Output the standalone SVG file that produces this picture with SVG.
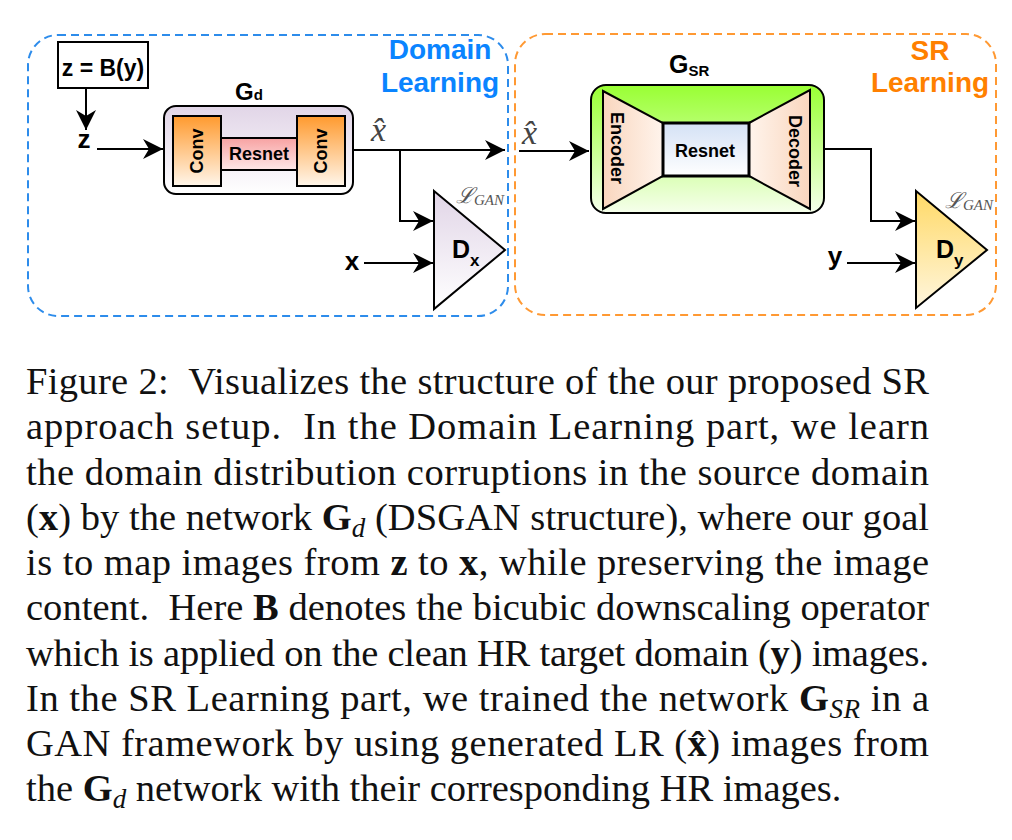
<svg xmlns="http://www.w3.org/2000/svg" width="1012" height="840" viewBox="0 0 1012 840">
<defs>
<style>
.lbl{font-family:"Liberation Sans",Arial,sans-serif;font-weight:bold;fill:#000}
.cap{font-family:"Liberation Serif","Times New Roman",serif;font-size:38.5px;fill:#111}
.math{font-family:"Liberation Serif","DejaVu Serif",serif;font-style:italic;fill:#444}
.edge{fill:none;stroke:#000;stroke-width:2;marker-end:url(#arr)}
.box{stroke:#000;stroke-width:2}
</style>
<marker id="arr" markerUnits="userSpaceOnUse" markerWidth="20" markerHeight="20" viewBox="0 0 20 20" refX="20" refY="10" orient="auto">
<path d="M20,10 L0,0 L6,10 L0,20 Z" fill="#000"/>
</marker>
<linearGradient id="gLav" x1="0" y1="0" x2="0" y2="1"><stop offset="0" stop-color="#E1D5E7"/><stop offset="1" stop-color="#FFFFFF"/></linearGradient>
<linearGradient id="gOrange" x1="0" y1="0" x2="0" y2="1"><stop offset="0" stop-color="#FF9A2E"/><stop offset="1" stop-color="#FFF6EB"/></linearGradient>
<linearGradient id="gPink" x1="0" y1="0" x2="0" y2="1"><stop offset="0" stop-color="#F7A2A2"/><stop offset="1" stop-color="#FFE8E8"/></linearGradient>
<linearGradient id="gGreen" x1="0" y1="0" x2="0" y2="1"><stop offset="0" stop-color="#99FF33"/><stop offset="1" stop-color="#F6FFEC"/></linearGradient>
<linearGradient id="gBlue" x1="0" y1="0" x2="0" y2="1"><stop offset="0" stop-color="#D4E1F5"/><stop offset="1" stop-color="#FFFFFF"/></linearGradient>
<linearGradient id="gPeachL" x1="0" y1="0" x2="1" y2="0"><stop offset="0" stop-color="#F9D6BE"/><stop offset="1" stop-color="#FFF4EC"/></linearGradient>
<linearGradient id="gPeachR" x1="1" y1="0" x2="0" y2="0"><stop offset="0" stop-color="#F9D6BE"/><stop offset="1" stop-color="#FFF4EC"/></linearGradient>
<linearGradient id="gGold" x1="0" y1="0" x2="0" y2="1"><stop offset="0" stop-color="#FFD966"/><stop offset="1" stop-color="#FFF6DE"/></linearGradient>
</defs>
<rect width="1012" height="840" fill="#FFFFFF"/>

<g id="domain-learning">
<rect x="28" y="35" width="480" height="281" rx="30" fill="none" stroke="#2D8CEB" stroke-width="2" stroke-dasharray="8 5"/>
<text class="lbl" x="440" y="59" font-size="28" text-anchor="middle" style="fill:#0A84FF">Domain</text>
<text class="lbl" x="440" y="92" font-size="28" text-anchor="middle" style="fill:#0A84FF">Learning</text>
</g>

<g id="sr-learning">
<rect x="515" y="34" width="481" height="281" rx="30" fill="none" stroke="#FF9933" stroke-width="2" stroke-dasharray="8 5"/>
<text class="lbl" x="930" y="60" font-size="28" text-anchor="middle" style="fill:#FF8000">SR</text>
<text class="lbl" x="930" y="92" font-size="28" text-anchor="middle" style="fill:#FF8000">Learning</text>
</g>

<g id="zby">
<rect x="58" y="42" width="90" height="46" fill="#FFFFFF" class="box"/>
<text class="lbl" x="103" y="76" font-size="23" text-anchor="middle">z = B(y)</text>
</g>

<g id="z-label"><text class="lbl" x="84" y="148" font-size="26" text-anchor="middle">z</text></g>

<g id="Gd">
<text class="lbl" x="235" y="100" font-size="24">G<tspan font-size="15">d</tspan></text>
<rect x="164" y="106" width="189" height="88" rx="12" fill="url(#gLav)" class="box"/>
<rect x="173" y="116" width="48" height="70" fill="url(#gOrange)" class="box"/>
<rect x="221" y="138" width="76" height="32" fill="url(#gPink)" class="box"/>
<rect x="297" y="116" width="48" height="70" fill="url(#gOrange)" class="box"/>
<text class="lbl" font-size="18" text-anchor="middle" dominant-baseline="central" transform="translate(197,151) rotate(-90)">Conv</text>
<text class="lbl" x="259" y="160" font-size="18" text-anchor="middle">Resnet</text>
<text class="lbl" font-size="18" text-anchor="middle" dominant-baseline="central" transform="translate(321,151) rotate(-90)">Conv</text>
</g>

<g id="xhat1"><text class="math" x="371" y="141" font-size="34">x&#770;</text></g>

<g id="Dx">
<polygon points="434,191 505,250 434,309" fill="url(#gLav)" class="box" stroke-linejoin="miter"/>
<text class="lbl" x="452" y="258" font-size="25">D<tspan font-size="17" dy="8">x</tspan></text>
<text class="math" x="456" y="203" font-size="22" style="fill:#555">ℒ<tspan font-size="15" dy="2">GAN</tspan></text>
</g>

<g id="x-label"><text class="lbl" x="352" y="270" font-size="26" text-anchor="middle">x</text></g>

<g id="xhat2"><text class="math" x="522" y="144" font-size="34">x&#770;</text></g>

<g id="GSR">
<text class="lbl" x="669" y="73" font-size="25">G<tspan font-size="15" dy="3">SR</tspan></text>
<rect x="591" y="85" width="233" height="128" rx="15" fill="url(#gGreen)" class="box"/>
<polygon points="603,91 663,123 663,176 603,209" fill="url(#gPeachL)" class="box"/>
<polygon points="749,123 810,90 810,209 749,176" fill="url(#gPeachR)" class="box"/>
<rect x="663" y="123" width="86" height="53" fill="url(#gBlue)" stroke="#000" stroke-width="3"/>
<text class="lbl" font-size="18" text-anchor="middle" dominant-baseline="central" transform="translate(617,148) rotate(90)">Encoder</text>
<text class="lbl" x="705" y="157" font-size="18" text-anchor="middle">Resnet</text>
<text class="lbl" font-size="18" text-anchor="middle" dominant-baseline="central" transform="translate(795,151) rotate(90)">Decoder</text>
</g>

<g id="Dy">
<polygon points="916,191 987,250 916,308" fill="url(#gGold)" class="box"/>
<text class="lbl" x="936" y="258" font-size="25">D<tspan font-size="17" dy="8">y</tspan></text>
<text class="math" x="945" y="208" font-size="22" style="fill:#555">ℒ<tspan font-size="15" dy="2">GAN</tspan></text>
</g>

<g id="y-label"><text class="lbl" x="835" y="265" font-size="26" text-anchor="middle">y</text></g>

<g id="connectors">
<path class="edge" d="M86,88 V130"/>
<path class="edge" d="M97,149 H163"/>
<path class="edge" d="M353,150 H505"/>
<path class="edge" d="M400,150 V221 H433"/>
<path class="edge" d="M364,263 H433"/>
<path class="edge" d="M519,151 H589"/>
<path class="edge" d="M824,149 H871 V221 H915"/>
<path class="edge" d="M847,263 H915"/>
</g>

<g id="caption">
<text class="cap" x="26" y="394" textLength="903" lengthAdjust="spacing">Figure 2:&#160; Visualizes the structure of the our proposed SR</text>
<text class="cap" x="26" y="439" textLength="903" lengthAdjust="spacing">approach setup.&#160; In the Domain Learning part, we learn</text>
<text class="cap" x="26" y="485" textLength="903" lengthAdjust="spacing">the domain distribution corruptions in the source domain</text>
<text class="cap" x="26" y="530" textLength="903" lengthAdjust="spacing">(<tspan font-weight="bold">x</tspan>) by the network <tspan font-weight="bold">G</tspan><tspan font-style="italic" font-size="27" dy="7">d</tspan><tspan dy="-7"> (DSGAN structure), where our goal</tspan></text>
<text class="cap" x="26" y="575" textLength="903" lengthAdjust="spacing">is to map images from <tspan font-weight="bold">z</tspan> to <tspan font-weight="bold">x</tspan>, while preserving the image</text>
<text class="cap" x="26" y="620" textLength="903" lengthAdjust="spacing">content.&#160; Here <tspan font-weight="bold">B</tspan> denotes the bicubic downscaling operator</text>
<text class="cap" x="26" y="666" textLength="903" lengthAdjust="spacing">which is applied on the clean HR target domain (<tspan font-weight="bold">y</tspan>) images.</text>
<text class="cap" x="26" y="711" textLength="903" lengthAdjust="spacing">In the SR Learning part, we trained the network <tspan font-weight="bold">G</tspan><tspan font-style="italic" font-size="27" dy="7">SR</tspan><tspan dy="-7"> in a</tspan></text>
<text class="cap" x="26" y="756" textLength="903" lengthAdjust="spacing">GAN framework by using generated LR (<tspan font-weight="bold">x&#770;</tspan>) images from</text>
<text class="cap" x="26" y="801">the <tspan font-weight="bold">G</tspan><tspan font-style="italic" font-size="27" dy="7">d</tspan><tspan dy="-7"> network with their corresponding HR images.</tspan></text>
</g>
</svg>
